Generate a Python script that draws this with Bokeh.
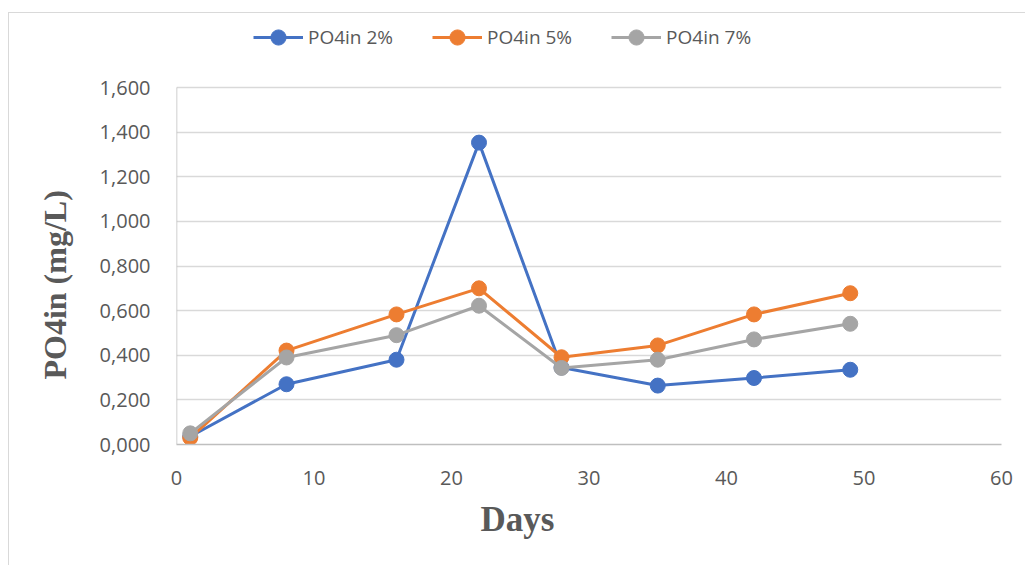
from bokeh.plotting import figure
from bokeh.models import Range1d, FixedTicker, CustomJSTickFormatter, Legend, LegendItem, Title
from bokeh.embed import file_html
from bokeh.resources import INLINE

days = [1, 8, 16, 22, 28, 35, 42, 49]
po4_2 = [0.036, 0.270, 0.380, 1.353, 0.345, 0.264, 0.298, 0.335]
po4_5 = [0.030, 0.421, 0.583, 0.700, 0.391, 0.444, 0.583, 0.678]
po4_7 = [0.050, 0.390, 0.490, 0.622, 0.343, 0.380, 0.471, 0.541]
series_names = ["PO4in 2%", "PO4in 5%", "PO4in 7%"]
series_colors = ["#4472C4", "#ED7D31", "#A5A5A5"]
x_ticks = [0, 10, 20, 30, 40, 50, 60]
y_ticks = [0, 0.2, 0.4, 0.6, 0.8, 1.0, 1.2, 1.4, 1.6]

# frame spans from the top of the canvas (legend lives inside it); the data
# area (0..1.6) occupies the lower 357 px of the 431 px frame
y_top = y_ticks[-1] * 431.0 / 357.0

p = figure(width=1017, height=553, output_backend="svg", toolbar_location=None,
           x_range=Range1d(0, 60), y_range=Range1d(0, y_top),
           min_border_left=167, min_border_right=25, min_border_top=0, min_border_bottom=122,
           margin=(12, 0, 0, 8))
p.styles = {"border-top": "1px solid #d9d9d9", "border-left": "1px solid #d9d9d9"}
p.outline_line_color = None
p.background_fill_color = "white"
p.border_fill_color = "white"

# y axis line only over the data area
p.segment(x0=[x_ticks[0]], y0=[y_ticks[0]], x1=[x_ticks[0]], y1=[y_ticks[-1]],
          line_color="#bfbfbf", line_width=1.5)

items = []
for ys, name, col in zip([po4_2, po4_5, po4_7], series_names, series_colors):
    r1 = p.line(days, ys, line_color=col, line_width=3)
    r2 = p.scatter(days, ys, size=15, fill_color=col, line_color=col)
    items.append(LegendItem(label=name, renderers=[r1, r2]))

legend = Legend(items=items, orientation="horizontal", location=(77, 388))
legend.border_line_color = None
legend.background_fill_alpha = 0
legend.padding = 0
legend.margin = 0
legend.spacing = 39
legend.glyph_width = 50
legend.glyph_height = 38
legend.label_standoff = 5
legend.label_text_font = "Open Sans"
legend.label_text_font_size = "19px"
legend.label_text_color = "#595959"
p.add_layout(legend, "center")

p.xaxis.ticker = FixedTicker(ticks=x_ticks)
p.yaxis.ticker = FixedTicker(ticks=y_ticks)
p.yaxis.formatter = CustomJSTickFormatter(code="return tick.toFixed(3).replace('.', ',');")
p.xgrid.grid_line_color = None
p.ygrid.grid_line_color = "#d9d9d9"
p.ygrid.grid_line_width = 1.5

for ax in [p.xaxis[0], p.yaxis[0]]:
    ax.axis_line_color = "#bfbfbf"
    ax.axis_line_width = 1.5
    ax.major_tick_line_color = None
    ax.minor_tick_line_color = None
    ax.major_label_text_font = "Open Sans"
    ax.major_label_text_font_size = "20px"
    ax.major_label_text_color = "#595959"
    ax.major_label_standoff = 20
p.yaxis.axis_line_color = None

xtitle = Title(text="Days", align="left", offset=304, standoff=20,
               text_font="Liberation Serif", text_font_style="bold",
               text_font_size="35px", text_color="#595959")
p.add_layout(xtitle, "below")

ytitle = Title(text="PO4in (mg/L)", align="left", offset=65, standoff=48,
               text_font="Liberation Serif", text_font_style="bold",
               text_font_size="32px", text_color="#595959")
p.add_layout(ytitle, "left")

open("out.html", "w").write(file_html(p, INLINE))
